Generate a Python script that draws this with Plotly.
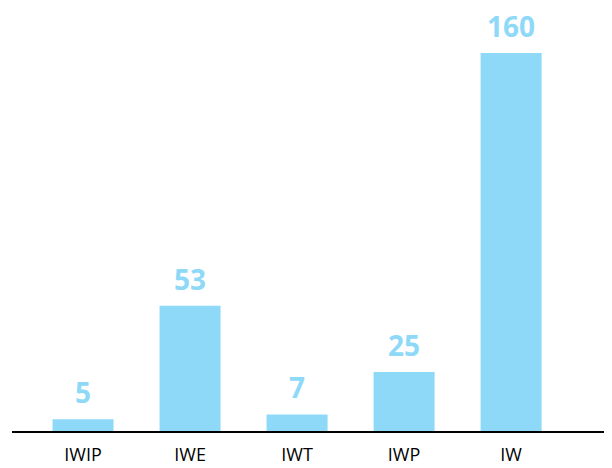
import plotly.graph_objects as go

categories = ["IWIP", "IWE", "IWT", "IWP", "IW"]
values = [5, 53, 7, 25, 160]

BAR_COLOR = "#8fd9f8"

fig = go.Figure()
fig.add_trace(go.Bar(
    x=categories, y=values,
    marker=dict(color=BAR_COLOR, line=dict(width=0)),
    width=0.57,
    hoverinfo="skip",
))

for c, v in zip(categories, values):
    fig.add_annotation(
        x=c, y=v, text=f"<b>{v}</b>", showarrow=False,
        yanchor="bottom", yshift=6,
        font=dict(family="Open Sans", size=28, color=BAR_COLOR),
    )

fig.update_layout(
    width=604, height=460,
    margin=dict(l=4, r=0, t=0, b=37),
    paper_bgcolor="white", plot_bgcolor="white",
    showlegend=False,
    xaxis=dict(
        range=[-0.664, 4.943],
        showline=True, linecolor="black", linewidth=1.5,
        showgrid=False, ticks="", zeroline=False,
        tickfont=dict(family="Open Sans", size=18, color="black"),
        ticklabelstandoff=7,
        automargin=False,
    ),
    yaxis=dict(
        range=[0, 179.05], visible=False, showgrid=False, zeroline=False,
    ),
)

fig.write_html("out.html")
